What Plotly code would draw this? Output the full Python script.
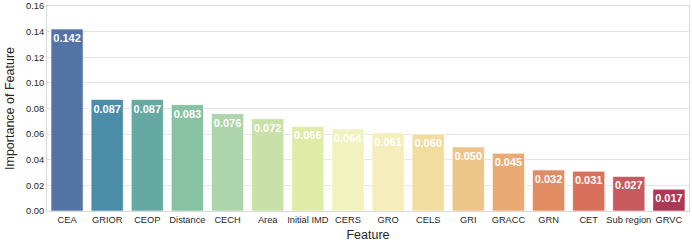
import colorsys
import plotly.graph_objects as go
from plotly.colors import sample_colorscale, diverging

features = ["CEA", "GRIOR", "CEOP", "Distance", "CECH", "Area", "Initial IMD", "CERS",
            "GRO", "CELS", "GRI", "GRACC", "GRN", "CET", "Sub region", "GRVC"]
importance = [0.142, 0.087, 0.087, 0.083, 0.076, 0.072, 0.066, 0.064,
              0.061, 0.060, 0.050, 0.045, 0.032, 0.031, 0.027, 0.017]
y_ticks = [0.00, 0.02, 0.04, 0.06, 0.08, 0.10, 0.12, 0.14, 0.16]

# Spectral_r palette sampled like seaborn, desaturated (barplot saturation 0.75)
n = len(features)
scale = list(reversed(diverging.Spectral))
pos = [(i + 1) / (n + 1) for i in range(n)]
raw = sample_colorscale(scale, pos, colortype="tuple")
colors = []
for c in raw:
    r, g, b = [v / 255 if v > 1 else v for v in c]
    h, l, s = colorsys.rgb_to_hls(r, g, b)
    r2, g2, b2 = colorsys.hls_to_rgb(h, l, s * 0.75)
    colors.append(f"rgb({int(round(r2*255))},{int(round(g2*255))},{int(round(b2*255))})")

fig = go.Figure(go.Bar(
    x=features, y=importance,
    marker=dict(color=colors, line=dict(color="rgba(255,255,255,0.6)", width=1)),
    text=[f"{v:.3f}" for v in importance],
    textposition="inside", insidetextanchor="end", textangle=0,
    textfont=dict(family="Liberation Sans, Arial, sans-serif", size=11, color="white", weight="bold"),
    constraintext="none",
    cliponaxis=False,
))

fig.update_layout(
    width=692, height=247,
    margin=dict(l=47, r=3, t=6, b=36),
    paper_bgcolor="white", plot_bgcolor="white",
    bargap=0.2, showlegend=False,
    font=dict(family="Liberation Sans, Arial, sans-serif", color="#262626"),
)
fig.update_xaxes(
    range=[-0.5, n - 0.5], tickfont=dict(size=9.3), tickangle=0, automargin=False,
    title=dict(text="Feature", font=dict(size=12.5), standoff=6),
    showline=True, linecolor="#d9d9d9", linewidth=1, mirror=True,
    showgrid=False, ticks="",
)
fig.update_yaxes(
    range=[0, 0.16], tickvals=y_ticks, ticktext=[f"{v:.2f}" for v in y_ticks],
    tickfont=dict(size=9.3), automargin=False,
    title=dict(text="Importance of Feature", font=dict(size=12.5), standoff=8),
    showline=True, linecolor="#d9d9d9", linewidth=1, mirror=True,
    showgrid=True, gridcolor="#e5e5e5", gridwidth=1, zeroline=False, ticks="",
)

fig.write_html("out.html", config={"displayModeBar": False},
               post_script="document.body.style.margin='0';document.body.style.overflow='hidden';")
